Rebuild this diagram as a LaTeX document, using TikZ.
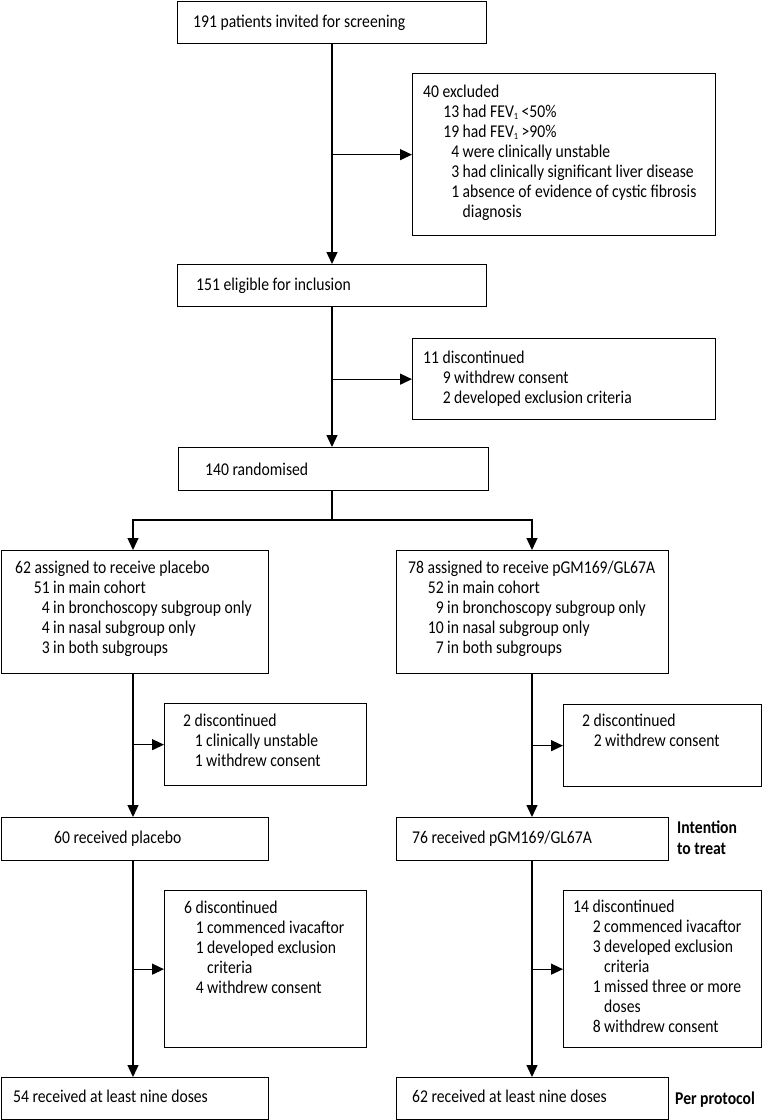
\documentclass[tikz,border=0pt]{standalone}
\usepackage{fontspec}
\setmainfont{Carlito}[FakeStretch=0.87]
\usetikzlibrary{arrows.meta}
\newcommand\nit[3]{\makebox[#1][r]{#2}\ #3}
\newcommand\sub[1]{\raisebox{-2.2pt}{\fontsize{9.5}{9.5}\selectfont #1}}
\begin{document}
\begin{tikzpicture}[x=1pt,y=-1pt,
  box/.style={draw=black, line width=1.3pt, inner sep=0pt, anchor=north west},
  txt/.style={inner sep=0pt, anchor=base west, font=\fontsize{18}{20}\selectfont},
  lbl/.style={inner sep=0pt, anchor=base west, font=\fontsize{18}{21}\selectfont\bfseries},
  arr/.style={line width=1.3pt, -{Triangle[length=12pt,width=11pt]}},
  ln/.style={line width=1.3pt}]
\useasboundingbox (0,0) rectangle (763,1120);
% boxes
\node[box, minimum width=309pt, minimum height=42pt] (b1) at (177,1) {};
\node[box, minimum width=303pt, minimum height=162pt] (ex) at (412,73) {};
\node[box, minimum width=309pt, minimum height=42pt] (b151) at (177,264) {};
\node[box, minimum width=303pt, minimum height=81pt] (d11) at (412,338) {};
\node[box, minimum width=310pt, minimum height=43pt] (b140) at (178,447) {};
\node[box, minimum width=267pt, minimum height=123pt] (bpl) at (1,550) {};
\node[box, minimum width=272pt, minimum height=123pt] (bpg) at (396,550) {};
\node[box, minimum width=202pt, minimum height=82pt] (d2l) at (164,703) {};
\node[box, minimum width=198pt, minimum height=82pt] (d2r) at (563,704) {};
\node[box, minimum width=267pt, minimum height=43pt] (b60) at (1,817) {};
\node[box, minimum width=272pt, minimum height=43pt] (b76) at (396,817) {};
\node[box, minimum width=202pt, minimum height=157pt] (d6) at (164,890) {};
\node[box, minimum width=198pt, minimum height=157pt] (d14) at (563,890) {};
\node[box, minimum width=267pt, minimum height=42pt] (b54) at (1,1077) {};
\node[box, minimum width=272pt, minimum height=42pt] (b62) at (396,1077) {};
% texts
\node[txt] (t1) at (193,27) {191 patients invited for screening};
\node[txt] (tex) at (423,97) {\begin{tabular}[t]{@{}l@{}}
40 excluded\\
\nit{36pt}{13}{had FEV\sub{1} <50\%}\\
\nit{36pt}{19}{had FEV\sub{1} >90\%}\\
\nit{36pt}{4}{were clinically unstable}\\
\nit{36pt}{3}{had clinically significant liver disease}\\
\nit{36pt}{1}{absence of evidence of cystic fibrosis}\\
\nit{36pt}{}{diagnosis}
\end{tabular}};
\node[txt] (t151) at (196,290) {151 eligible for inclusion};
\node[txt] (t11) at (423,363) {\begin{tabular}[t]{@{}l@{}}
11 discontinued\\
\nit{27.5pt}{9}{withdrew consent}\\
\nit{27.5pt}{2}{developed exclusion criteria}
\end{tabular}};
\node[txt] (t140) at (205,475) {140 randomised};
\node[txt] (tpl) at (15,573) {\begin{tabular}[t]{@{}l@{}}
62 assigned to receive placebo\\
\nit{34.5pt}{51}{in main cohort}\\
\nit{34.5pt}{4}{in bronchoscopy subgroup only}\\
\nit{34.5pt}{4}{in nasal subgroup only}\\
\nit{34.5pt}{3}{in both subgroups}
\end{tabular}};
\node[txt] (tpg) at (408,573) {\begin{tabular}[t]{@{}l@{}}
78 assigned to receive pGM169/GL67A\\
\nit{35.5pt}{52}{in main cohort}\\
\nit{35.5pt}{9}{in bronchoscopy subgroup only}\\
\nit{35.5pt}{10}{in nasal subgroup only}\\
\nit{35.5pt}{7}{in both subgroups}
\end{tabular}};
\node[txt] (td2l) at (183,726) {\begin{tabular}[t]{@{}l@{}}
2 discontinued\\
\nit{19.5pt}{1}{clinically unstable}\\
\nit{19.5pt}{1}{withdrew consent}
\end{tabular}};
\node[txt] (td2r) at (582,726) {\begin{tabular}[t]{@{}l@{}}
2 discontinued\\
\nit{19.5pt}{2}{withdrew consent}
\end{tabular}};
\node[txt] (t60) at (54,843) {60 received placebo};
\node[txt] (t76) at (412,843) {76 received pGM169/GL67A};
\node[lbl] (itt) at (677,833) {\begin{tabular}[t]{@{}l@{}}Intention\\to treat\end{tabular}};
\node[txt] (td6) at (184,913) {\begin{tabular}[t]{@{}l@{}}
6 discontinued\\
\nit{19.5pt}{1}{commenced ivacaftor}\\
\nit{19.5pt}{1}{developed exclusion}\\
\nit{19.5pt}{}{criteria}\\
\nit{19.5pt}{4}{withdrew consent}
\end{tabular}};
\node[txt] (td14) at (573,912) {\begin{tabular}[t]{@{}l@{}}
14 discontinued\\
\nit{27.5pt}{2}{commenced ivacaftor}\\
\nit{27.5pt}{3}{developed exclusion}\\
\nit{27.5pt}{}{criteria}\\
\nit{27.5pt}{1}{missed three or more}\\
\nit{27.5pt}{}{doses}\\
\nit{27.5pt}{8}{withdrew consent}
\end{tabular}};
\node[txt] (t54) at (13,1102) {54 received at least nine doses};
\node[txt] (t62) at (412,1102) {62 received at least nine doses};
\node[lbl] (pp) at (675,1104) {Per protocol};
% connectors
\coordinate (cM) at (332,0);
\coordinate (cL) at (133,0);
\coordinate (cR) at (532,0);
\coordinate (br) at (332,520);
\draw[arr] (cM |- b1.south) -- (cM |- b151.north);
\draw[arr] (cM |- ex.west) -- (ex.west);
\draw[arr] (cM |- b151.south) -- (cM |- b140.north);
\draw[arr] (cM |- d11.west) -- (d11.west);
\draw[ln] (cM |- b140.south) -- (br);
\draw[arr] (br) -| (cL |- bpl.north);
\draw[arr] (br) -| (cR |- bpg.north);
\draw[arr] (cL |- bpl.south) -- (cL |- b60.north);
\draw[arr] (cL |- d2l.west) -- (d2l.west);
\draw[arr] (cL |- b60.south) -- (cL |- b54.north);
\draw[arr] (cL |- d6.west) -- (d6.west);
\draw[arr] (cR |- bpg.south) -- (cR |- b76.north);
\draw[arr] (cR |- d2r.west) -- (d2r.west);
\draw[arr] (cR |- b76.south) -- (cR |- b62.north);
\draw[arr] (cR |- d14.west) -- (d14.west);
\end{tikzpicture}
\end{document}
